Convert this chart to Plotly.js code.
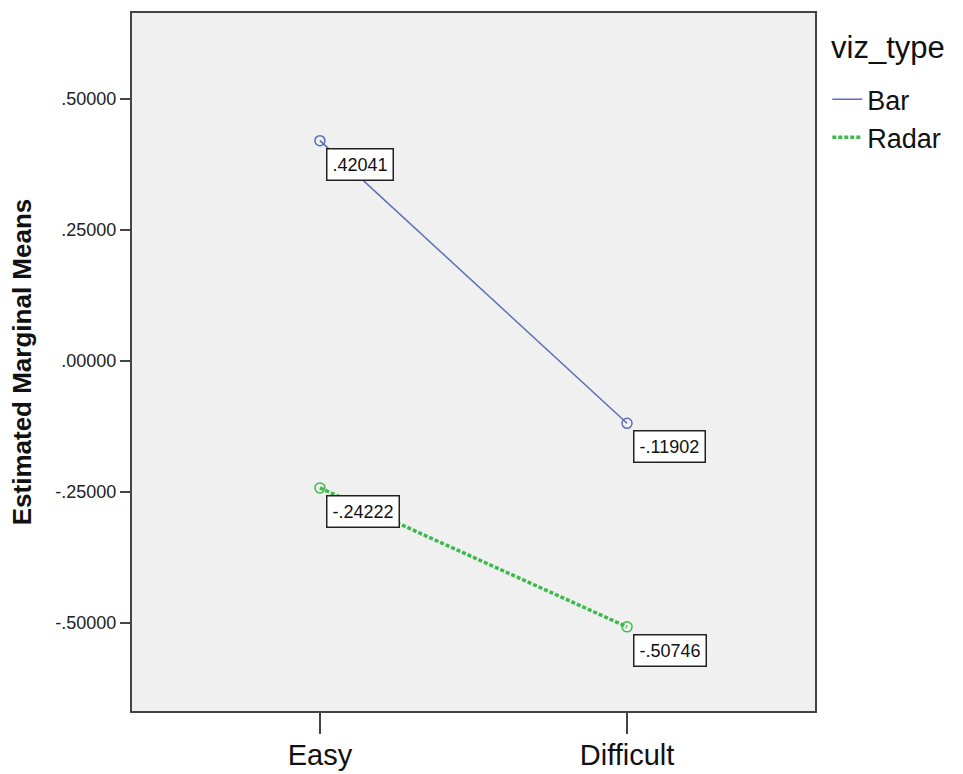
<!DOCTYPE html>
<html>
<head>
<meta charset="utf-8">
<script src="https://cdn.plot.ly/plotly-3.0.1.min.js"></script>
<style>html,body{margin:0;padding:0;background:#fff;}#chart{width:963px;height:774px;}</style>
</head>
<body>
<div id="chart"></div>
<script>
const categories = ['Easy', 'Difficult'];
const seriesNames = ['Bar', 'Radar'];
const legendTitle = 'viz_type';
const barValues = [0.42041, -0.11902];
const radarValues = [-0.24222, -0.50746];
const yTickVals = [-0.5, -0.25, 0, 0.25, 0.5];

function fmt(v) { return v.toFixed(5).replace('0.', '.'); }

const barColor = '#5b6fb6';
const radarColor = '#3dba4d';
const font = 'Liberation Sans, Arial, sans-serif';

const traces = [
  {
    x: categories, y: barValues, name: seriesNames[0], type: 'scatter', mode: 'lines',
    line: {color: barColor, width: 1.5}, legendgroup: 'bar'
  },
  {
    x: categories, y: radarValues, name: seriesNames[1], type: 'scatter', mode: 'lines',
    line: {color: radarColor, width: 3.5, dash: '4px,2px'}, legendgroup: 'radar'
  },
  {
    x: categories, y: barValues, name: seriesNames[0], type: 'scatter', mode: 'markers',
    showlegend: false, legendgroup: 'bar',
    marker: {symbol: 'circle-open', size: 10, color: barColor, line: {width: 1.5}}
  },
  {
    x: categories, y: radarValues, name: seriesNames[1], type: 'scatter', mode: 'markers',
    showlegend: false, legendgroup: 'radar',
    marker: {symbol: 'circle-open', size: 10, color: radarColor, line: {width: 1.5}}
  }
];

const annotations = [];
[barValues, radarValues].forEach(vals => {
  vals.forEach((v, i) => {
    annotations.push({
      x: categories[i], y: v, xref: 'x', yref: 'y', text: fmt(v), showarrow: false,
      xanchor: 'left', yanchor: 'top', xshift: 6, yshift: -7,
      bgcolor: '#ffffff', bordercolor: '#222222', borderwidth: 1.5, borderpad: 5,
      font: {family: font, size: 18, color: '#111'}
    });
  });
});
annotations.push({
  x: 1.0205, y: 0.951, xref: 'paper', yref: 'paper', text: legendTitle, showarrow: false,
  xanchor: 'left', yanchor: 'middle', font: {family: font, size: 31, color: '#111'}
});

const layout = {
  width: 963, height: 774,
  margin: {l: 132, r: 148, t: 13, b: 63},
  paper_bgcolor: '#ffffff', plot_bgcolor: '#f0f0f0',
  font: {family: font, color: '#111'},
  showlegend: true,
  legend: {
    x: 1.018, xanchor: 'left', y: 0.911, yanchor: 'top',
    font: {family: font, size: 27, color: '#111'},
    bgcolor: 'rgba(0,0,0,0)', tracegroupgap: 0, itemwidth: 30
  },
  xaxis: {
    type: 'category', categoryorder: 'array', categoryarray: categories,
    range: [-0.612, 1.612], showgrid: false, zeroline: false,
    showline: true, linecolor: '#444', linewidth: 2, mirror: true,
    ticks: 'outside', ticklen: 21, tickwidth: 1.5, tickcolor: '#444',
    ticklabelstandoff: -4,
    tickfont: {family: font, size: 29, color: '#111'}
  },
  yaxis: {
    range: [-0.668, 0.664], showgrid: false, zeroline: false,
    showline: true, linecolor: '#444', linewidth: 2, mirror: true,
    ticks: 'outside', ticklen: 10, tickwidth: 1.5, tickcolor: '#444',
    tickvals: yTickVals, ticktext: yTickVals.map(fmt),
    tickfont: {family: font, size: 18, color: '#222'},
    title: {text: 'Estimated Marginal Means', standoff: 16,
      font: {family: font, size: 26, color: '#111', weight: 'bold'}}
  },
  annotations: annotations
};

Plotly.newPlot('chart', traces, layout, {displayModeBar: false, staticPlot: true});
</script>
</body>
</html>
